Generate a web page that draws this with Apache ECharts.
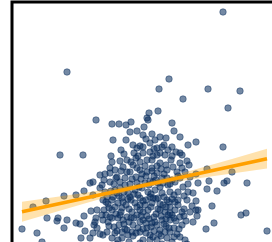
<!DOCTYPE html>
<html>
<head>
<meta charset="utf-8">
<script src="https://cdn.jsdelivr.net/npm/echarts@6/dist/echarts.min.js"></script>
<style>
html,body{margin:0;padding:0;background:#fff;}
#chart{width:272px;height:242px;}
</style>
</head>
<body>
<div id="chart"></div>
<script>
// Scatter observations [x, y]
const scatterPoints = [
  [211,250],[55,190],[157,183],[147,173],[196,173],[228,171],[171,163],[146,151],[137,149],[216,154],
  [136,142],[84,142],[100,138],[107,138],[114,137],[119,140],[160,139],[162,131],[125,131],[118,130],
  [132,135],[131,127],[140,128],[148,125],[154,124],[168,125],[101,122],[176,117],[184,120],[211,115],
  [121,117],[128,116],[138,119],[145,114],[160,115],[135,144],[125,114],[150,115],
  [48,107],[71,107],[122,109],[131,109],[148,109],[145,107],[168,109],[170,107],[100,100],[108,101],
  [115,102],[128,100],[135,102],[140,102],[148,99],[159,102],[168,99],[175,101],[177,97],[88,87],
  [98,89],[105,85],[118,90],[128,92],[140,94],[145,89],[155,92],[165,90],[173,90],[178,85],
  [184,88],[195,93],[220,90],[78,79],
  [81,80],[98,80],[88,74],[108,74],[125,79],[133,79],[141,80],[148,75],[156,77],[163,80],
  [171,75],[166,70],[181,69],[186,79],[215,81],[212,79],[235,79],[197,81],[195,73],[205,71],
  [176,78],[90,77],[72,71],[64,67],[52,66],[34,61],[81,67],[91,62],[101,65],[110,64],
  [118,65],[128,64],[138,65],[146,64],[155,62],[163,60],[175,62],[184,61],[200,56],[172,53],
  [184,52],[21,55],
  [85,52],[92,52],[100,52],[110,54],[120,50],[128,52],[136,52],[148,52],[158,49],[168,45],
  [178,50],[186,52],[83,40],[91,42],[100,44],[111,42],[121,37],[131,42],[140,39],[150,42],
  [160,47],[170,37],[181,40],[81,29],[91,27],[103,29],[115,32],[128,30],[138,27],[148,32],
  [158,30],[131,22],[173,22],[145,22],[79,51],[90,47],[84,44],[82,37],[72,46],[35,44],
  [45,41],[55,42],[64,39],[52,34],[46,44],[68,38],[73,31],[85,34],[88,28],[78,24],
  [69,24],[10,33],[25,29],[30,20],[185,46],[202,39],[194,33],[229,47],[234,49],[255,31],
  [174,41],[162,34],[149,26],
  [93,70],[103,72],[113,77],[116,69],[123,72],[130,74],[136,70],[143,72],[150,69],[158,70],
  [96,58],[106,59],[114,57],[123,59],[133,57],[140,59],[151,57],[158,55],[94,47],[104,48],
  [115,45],[125,47],[135,46],[144,48],[154,43],[97,36],[107,37],[117,40],[126,34],[135,34],
  [145,37],[154,36],[164,41],[100,24],[110,24],[121,26],[138,22],[155,24],[98,94],[111,95],
  [121,97],[133,96],[145,96],[154,97],[113,84],[124,85],[134,86],[150,84],[160,82],[168,84],
  [92,82],[102,78],[106,44],[162,25],[166,57],[172,66],[124,104],[153,107],[114,122],[109,112],
  [134,123],[143,122],[105,18],[128,19],[150,18],[175,18],
  [95,65],[99,71],[107,66],[112,70],[119,62],[126,67],[131,61],[139,68],[144,63],[152,65],
  [157,60],[162,67],[97,54],[103,55],[109,50],[117,53],[125,55],[131,50],[139,55],[146,53],
  [153,50],[163,52],[96,40],[102,35],[113,33],[119,44],[128,40],[137,43],[143,40],[152,38],
  [158,42],[167,33],[93,88],[103,92],[115,90],[125,94],[135,90],[142,86],[152,88],[161,95],
  [170,94],[99,106],[112,108],[126,106],[138,110],[156,112],[164,110],[110,30],[120,30],[134,29],
  [142,31],[153,30],[165,28],[106,22],[117,20],[141,25],[160,20],[108,80],[118,78],[129,83],
  [138,81],[146,79],[155,84],[166,86],[176,70],[180,56],[172,46],
  [94,60],[100,62],[105,69],[111,60],[116,63],[122,68],[128,57],[134,62],[141,64],[148,58],
  [154,55],[160,63],[166,62],[98,45],[108,47],[112,38],[122,44],[129,46],[134,39],[142,45],
  [149,46],[156,47],[162,44],[170,50],[95,30],[105,31],[116,27],[124,29],[131,33],[139,35],
  [147,28],[157,34],[168,25],[120,83],[127,75],[137,77],[144,82],[151,79],[158,78],[130,88],
  [140,91],[149,93],[104,84],[109,91],[119,100],[141,106],[160,106],[131,115],[142,113],[152,117]
];

// Regression fit line and its confidence band
const fitX = [10, 255];
const fitY = [50.3, 103.3];
const bandX = [10, 40, 70, 100, 130, 160, 190, 220, 255];
const bandLow = [40.3, 49.1, 57.8, 66.2, 73.9, 79.6, 84.2, 88.5, 93.4];
const bandHigh = [60.3, 64.5, 68.8, 73.4, 78.8, 86.0, 94.4, 103.1, 113.2];

const chart = echarts.init(document.getElementById('chart'), null, {renderer: 'canvas'});
const hidden = {show: false};
chart.setOption({
  animation: false,
  backgroundColor: '#ffffff',
  grid: {left: 12, top: 2, width: 280, height: 260, outerBoundsMode: 'none', containLabel: false,
         show: true, borderColor: '#000000', borderWidth: 3, backgroundColor: 'transparent'},
  xAxis: {type: 'value', min: 0, max: 280, axisLine: hidden, axisTick: hidden, axisLabel: hidden, splitLine: hidden},
  yAxis: {type: 'value', min: 0, max: 260, axisLine: hidden, axisTick: hidden, axisLabel: hidden, splitLine: hidden},
  series: [
    {
      type: 'scatter',
      data: scatterPoints,
      symbolSize: 6.5,
      itemStyle: {color: 'rgba(8,44,92,0.7)', borderColor: 'rgba(8,44,92,0.55)', borderWidth: 1},
      z: 2
    },
    {
      type: 'custom',
      data: [0],
      z: 3,
      renderItem: function (params, api) {
        const top = bandX.map((x, i) => api.coord([x, bandHigh[i]]));
        const bottom = bandX.map((x, i) => api.coord([x, bandLow[i]])).reverse();
        return {type: 'polygon', shape: {points: top.concat(bottom)}, style: {fill: 'rgba(255,165,0,0.32)'}};
      }
    },
    {
      type: 'line',
      data: fitX.map((x, i) => [x, fitY[i]]),
      symbol: 'none',
      lineStyle: {color: '#ffa000', width: 3.5},
      z: 4
    }
  ]
});
</script>
</body>
</html>
